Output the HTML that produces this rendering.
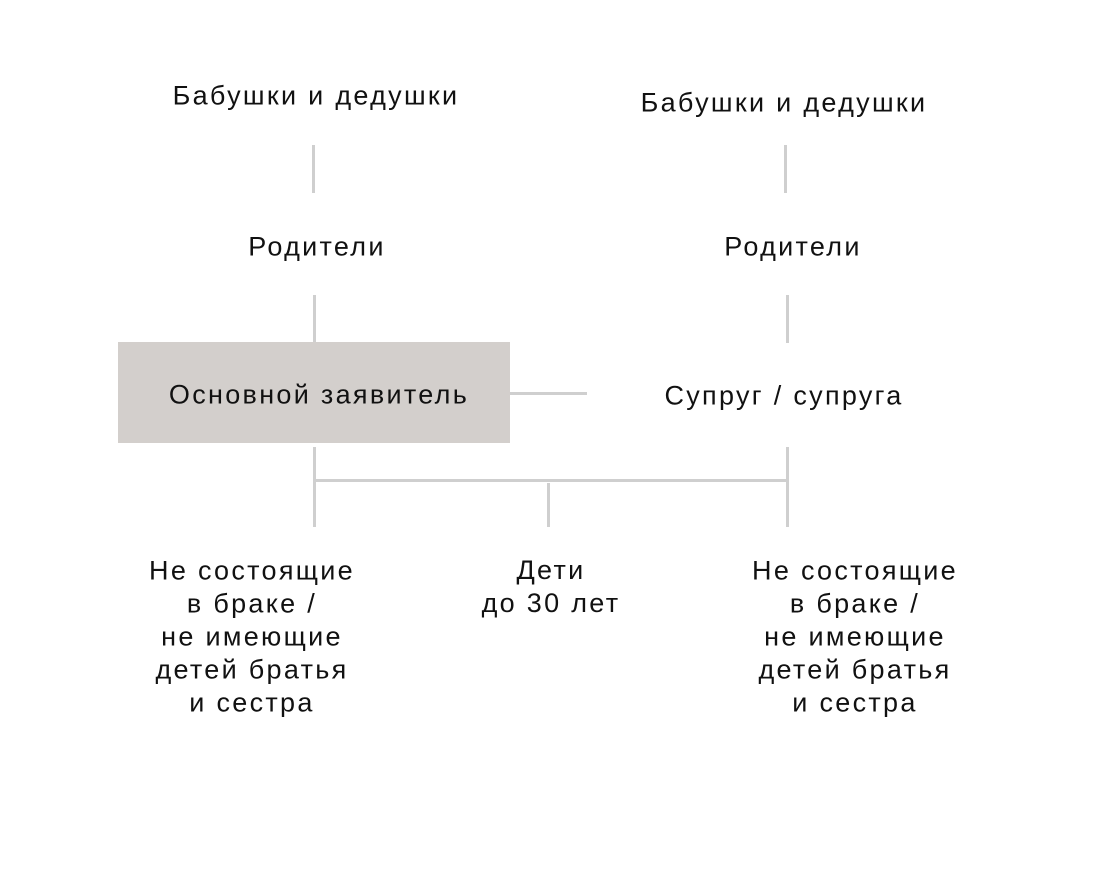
<!DOCTYPE html>
<html><head><meta charset="utf-8"><style>
body{margin:0;width:1100px;height:894px;background:#fff;position:relative;font-family:"Liberation Sans",sans-serif;color:#111;overflow:hidden}
.t{position:absolute;font-size:27px;letter-spacing:2.3px;white-space:nowrap;transform:translate(-50%,-50%);text-align:center;line-height:33px}
.l{position:absolute;background:#cfcfcf}
</style></head><body>
<div class="t" style="left:316px;top:96px">Бабушки и дедушки</div>
<div class="t" style="left:784px;top:103px">Бабушки и дедушки</div>
<div class="l" style="left:312px;top:145px;width:3px;height:48px"></div>
<div class="l" style="left:784px;top:145px;width:3px;height:48px"></div>
<div class="t" style="left:317px;top:247px">Родители</div>
<div class="t" style="left:793px;top:247px">Родители</div>
<div class="l" style="left:313px;top:295px;width:3px;height:48px"></div>
<div class="l" style="left:786px;top:295px;width:3px;height:48px"></div>
<div style="position:absolute;left:118px;top:342px;width:392px;height:101px;background:#d3cfcc"></div>
<div class="t" style="left:319px;top:395px">Основной заявитель</div>
<div class="l" style="left:510px;top:392px;width:77px;height:3px"></div>
<div class="t" style="left:784px;top:396px">Супруг / супруга</div>
<div class="l" style="left:313px;top:447px;width:3px;height:80px"></div>
<div class="l" style="left:786px;top:447px;width:3px;height:80px"></div>
<div class="l" style="left:313px;top:479px;width:476px;height:3px"></div>
<div class="l" style="left:547px;top:483px;width:3px;height:44px"></div>
<div class="t" style="left:252px;top:637px">Не состоящие<br>в браке /<br>не имеющие<br>детей братья<br>и сестра</div>
<div class="t" style="left:551px;top:587px">Дети<br>до 30 лет</div>
<div class="t" style="left:855px;top:637px">Не состоящие<br>в браке /<br>не имеющие<br>детей братья<br>и сестра</div>
</body></html>
